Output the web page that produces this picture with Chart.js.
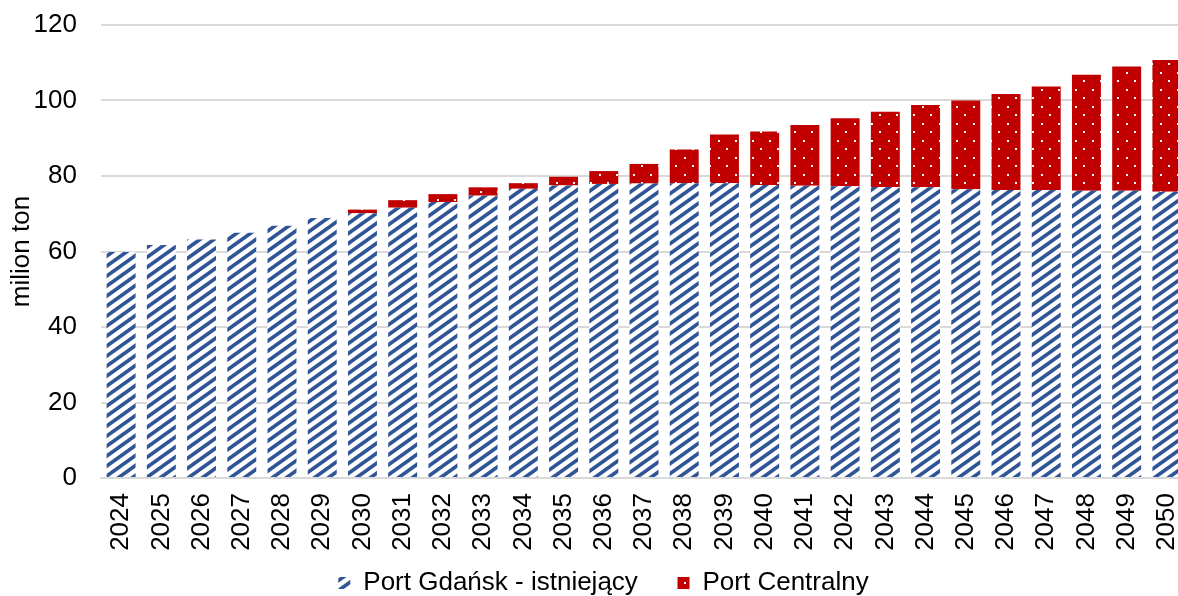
<!DOCTYPE html>
<html>
<head>
<meta charset="utf-8">
<script src="https://cdn.jsdelivr.net/npm/chart.js@4.4.1/dist/chart.umd.min.js"></script>
<style>
  html, body { margin: 0; padding: 0; background: #fff; overflow: hidden; }
  #wrap { width: 1190px; height: 596px; }
</style>
</head>
<body>
<div id="wrap"><canvas id="chart"></canvas></div>
<script>
const years = ['2024','2025','2026','2027','2028','2029','2030','2031','2032','2033','2034','2035','2036','2037',
               '2038','2039','2040','2041','2042','2043','2044','2045','2046','2047','2048','2049','2050'];
const gdansk = [59.9, 61.7, 63.2, 65.0, 66.8, 68.9, 70.1, 71.6, 73.1, 74.8, 76.6, 77.5, 77.9, 78.0,
                78.1, 78.1, 77.6, 77.4, 77.3, 77.1, 77.0, 76.5, 76.3, 76.3, 76.1, 76.1, 75.8];
const centralny = [0, 0, 0, 0, 0, 0, 1.0, 2.0, 2.1, 2.2, 1.5, 2.3, 3.4, 5.2,
                   8.9, 12.9, 14.2, 16.1, 18.0, 19.9, 21.8, 23.5, 25.4, 27.4, 30.7, 32.9, 34.9];
const yTicks = [0, 20, 40, 60, 80, 100, 120];

// skośne paski, jak wzór w Excelu
function stripePattern() {
    const w = 14, h = 10, t = 4.5;
    const c = document.createElement('canvas');
    c.width = w; c.height = h;
    const g = c.getContext('2d');
    g.fillStyle = '#ffffff';
    g.fillRect(0, 0, w, h);
    g.fillStyle = '#2f5597';
    g.beginPath();
    for (const dy of [-h, 0, h]) {
        g.moveTo(0, h + dy); g.lineTo(w, dy); g.lineTo(w, dy + t); g.lineTo(0, h + dy + t); g.closePath();
    }
    g.fill();
    return g.createPattern(c, 'repeat');
}

function dotPattern() {
    const w = 17, h = 17;
    const c = document.createElement('canvas');
    c.width = w; c.height = h;
    const g = c.getContext('2d');
    g.fillStyle = '#c00000';
    g.fillRect(0, 0, w, h);
    g.fillStyle = '#ffffff';
    g.fillRect(4, 4, 2, 2);
    g.fillRect(12, 12, 2, 2);
    return g.createPattern(c, 'repeat');
}

const font = "'Liberation Sans', Arial, sans-serif";

new Chart(document.getElementById('chart'), {
    type: 'bar',
    data: {
        labels: years,
        datasets: [
            { label: 'Port Gdańsk - istniejący', data: gdansk, backgroundColor: stripePattern(), borderWidth: 0 },
            { label: 'Port Centralny', data: centralny, backgroundColor: dotPattern(), borderWidth: 0 }
        ]
    },
    options: {
        responsive: true,
        maintainAspectRatio: false,
        animation: false,
        devicePixelRatio: 1,
        layout: { padding: { top: 25, right: 3, left: 20, bottom: 0 } },
        datasets: { bar: { categoryPercentage: 1, barPercentage: 0.72 } },
        plugins: {
            tooltip: { enabled: false },
            legend: {
                position: 'bottom',
                maxHeight: 44,
                labels: {
                    font: { family: font, size: 26 },
                    color: '#000',
                    boxWidth: 12,
                    boxHeight: 12,
                    padding: 18,
                    generateLabels: chart => {
                        const items = Chart.defaults.plugins.legend.labels.generateLabels(chart);
                        items[0].text += '\u00a0\u00a0\u00a0';
                        return items;
                    }
                }
            }
        },
        scales: {
            x: {
                stacked: true,
                grid: { display: false, drawTicks: false },
                border: { display: true, color: '#d9d9d9', width: 2 },
                ticks: {
                    font: { family: font, size: 26 },
                    color: '#000',
                    minRotation: 90,
                    maxRotation: 90,
                    padding: 15,
                    autoSkip: false
                },
                afterFit: s => { s.height = 74; s.paddingLeft = 0; s.paddingRight = 0; }
            },
            y: {
                stacked: true,
                min: 0,
                max: 120,
                afterBuildTicks: s => { s.ticks = yTicks.map(v => ({ value: v })); },
                grid: { color: '#d9d9d9', lineWidth: 2, drawTicks: false },
                border: { display: false },
                ticks: {
                    font: { family: font, size: 26 },
                    color: '#000',
                    padding: 24
                },
                title: {
                    display: true,
                    text: 'milion ton',
                    font: { family: font, size: 26 },
                    color: '#000',
                    padding: { top: -14, bottom: 0 }
                },
                afterFit: s => { s.width = 81; s.paddingTop = 0; s.paddingBottom = 0; }
            }
        }
    }
});
</script>
</body>
</html>
